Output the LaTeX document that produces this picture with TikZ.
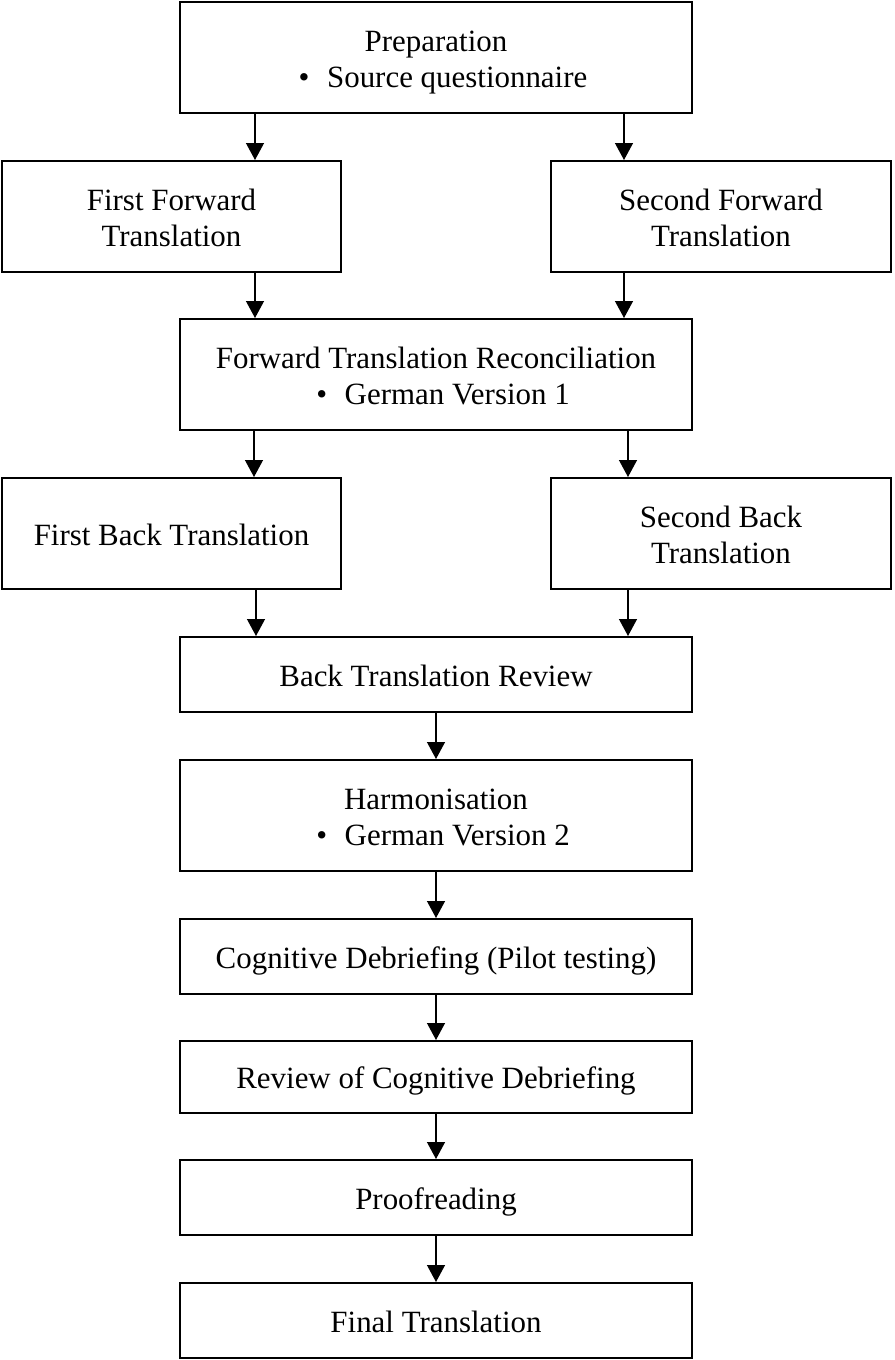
\documentclass[tikz,border=0pt]{standalone}
\usepackage{fontspec}
\setmainfont{Liberation Serif}
\usepackage{tikz}
\usetikzlibrary{calc,arrows.meta}

\newcommand{\itembullet}{\hspace*{0.28cm}\textbullet\hspace{0.57em}}

\begin{document}
\begin{tikzpicture}[x=0.02cm,y=-0.02cm,
    box/.style={draw,line width=1.15pt,align=center,inner sep=0pt,
      font=\fontsize{17.6}{20.8}\selectfont},
    wide/.style={box,minimum width=10.24cm},
    side/.style={box,minimum width=6.8cm},
    tall/.style={minimum height=2.22cm,text height=40pt,text depth=5.3pt},
    flat/.style={minimum height=1.5cm,text height=18pt,text depth=4.4pt},
    arr/.style={line width=0.75pt,-{Triangle[width=0.36cm,length=0.34cm]}}]
  \useasboundingbox (0,0) rectangle (894,1360);

  %% Boxes of the translation steps
  \node[wide,tall] (prep)   at (436,57.5)  {Preparation\\\itembullet Source questionnaire};
  \node[side,tall] (ffwd)   at (171.5,216.5) {First Forward\\Translation};
  \node[side,tall] (sfwd)   at (721,216.5) {Second Forward\\Translation};
  \node[wide,tall] (recon)  at (436,374.5) {Forward Translation Reconciliation\\\itembullet German Version 1};
  \node[side,flat,minimum height=2.22cm] (fback) at (171.5,533.5) {First Back Translation};
  \node[side,tall] (sback)  at (721,533.5) {Second Back\\Translation};
  \node[wide,flat] (review) at (436,674.5) {Back Translation Review};
  \node[wide,tall] (harm)   at (436,815.5) {Harmonisation\\\itembullet German Version 2};
  \node[wide,flat] (cog)    at (436,956.5) {Cognitive Debriefing (Pilot testing)};
  \node[wide,flat,minimum height=1.44cm] (revcog) at (436,1077) {Review of Cognitive Debriefing};
  \node[wide,flat] (proof)  at (436,1197.5) {Proofreading};
  \node[wide,flat] (final)  at (436,1320.5) {Final Translation};

  %% Split and merge arrows
  \draw[arr] ([xshift=-181*0.02cm]prep.south) -- ([xshift=-181*0.02cm]prep.south |- ffwd.north);
  \draw[arr] ([xshift=188*0.02cm]prep.south) -- ([xshift=188*0.02cm]prep.south |- sfwd.north);
  \draw[arr] ([xshift=83.5*0.02cm]ffwd.south) -- ([xshift=83.5*0.02cm]ffwd.south |- recon.north);
  \draw[arr] ([xshift=-97*0.02cm]sfwd.south) -- ([xshift=-97*0.02cm]sfwd.south |- recon.north);
  \draw[arr] ([xshift=-182*0.02cm]recon.south) -- ([xshift=-182*0.02cm]recon.south |- fback.north);
  \draw[arr] ([xshift=192*0.02cm]recon.south) -- ([xshift=192*0.02cm]recon.south |- sback.north);
  \draw[arr] ([xshift=84.5*0.02cm]fback.south) -- ([xshift=84.5*0.02cm]fback.south |- review.north);
  \draw[arr] ([xshift=-93*0.02cm]sback.south) -- ([xshift=-93*0.02cm]sback.south |- review.north);

  %% Straight chain down the middle
  \foreach \a/\b in {review/harm,harm/cog,cog/revcog,revcog/proof,proof/final}
  {
    \draw[arr] (\a) -- (\b);
  }
\end{tikzpicture}
\end{document}
